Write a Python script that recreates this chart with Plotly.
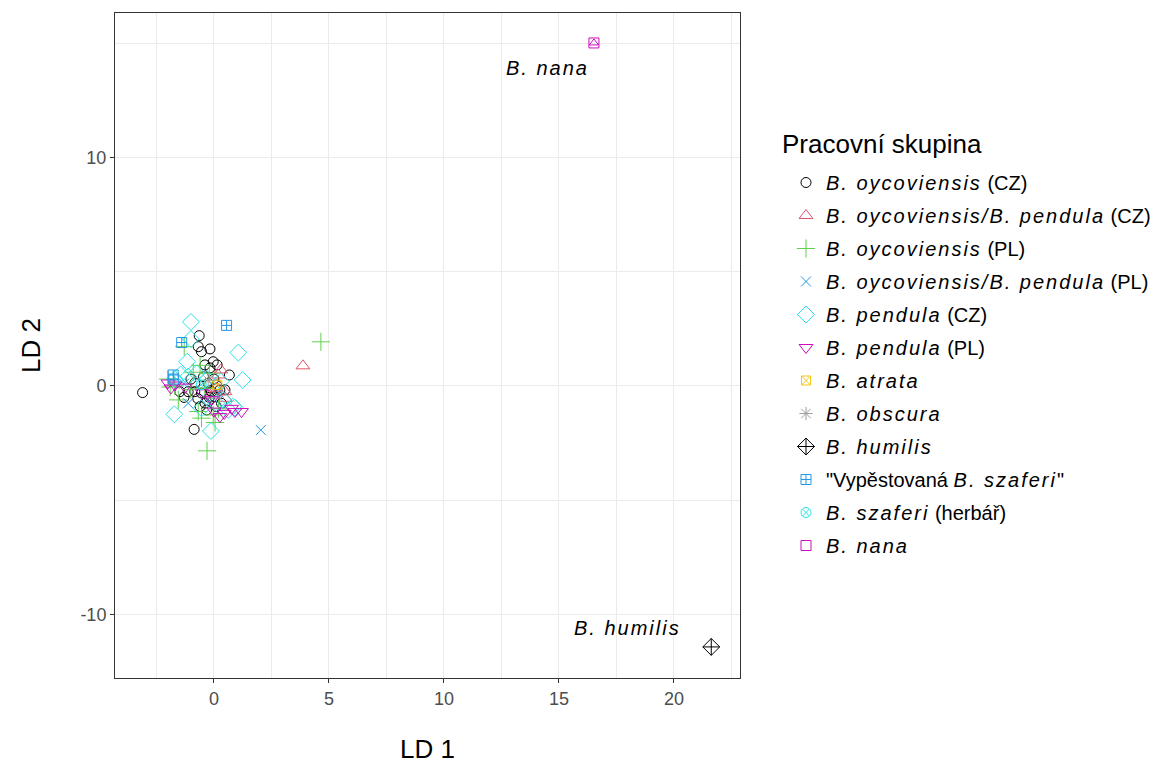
import plotly.graph_objects as go

# LDA scores (LD 1, LD 2) per working group
oyc_cz_x = [-3.1, -0.64, -0.68, -0.54, -0.17, -0.03, 0.14, 0.67, -0.39, -0.17, -1.48, -1.12, -0.83, -0.83,
            -0.54, -0.25, -0.39, 0.12, 0.26, -0.10, 0.04, 0.33, -0.32, -0.86, 0.48, -1.30, -0.60, -0.20,
            0.00, -0.45, -1.00, -0.70, 0.10, -0.15]
oyc_cz_y = [-0.29, 2.20, 1.72, 1.50, 1.62, 1.06, 0.92, 0.48, 0.92, 0.79, -0.25, -0.25, 0.13, -0.25,
            -0.31, 0.12, -0.75, 0.04, -0.18, -0.25, -0.47, -0.76, -1.05, -1.90, -0.17, -0.50, -0.90, -0.50,
            0.30, 0.40, 0.30, -0.55, -0.90, -0.20]

oyc_pen_cz_x = [3.87, 0.19, 0.48, 0.50, 0.30, -0.05, 0.10]
oyc_pen_cz_y = [0.88, 0.48, -0.25, -0.54, 0.70, -0.40, -0.10]

oyc_pl_x = [4.65, -1.29, -0.30, -1.55, -0.68, -0.03, -0.54, -1.70, -0.20, 0.05, -0.90, -0.40, -1.90,
            0.20, -0.60, -1.00, -2.00]
oyc_pl_y = [1.93, 1.72, -2.84, -0.61, -1.12, -1.27, -1.41, 0.00, 0.55, -1.60, 0.60, -0.10, -0.05,
            -1.00, 0.90, -0.15, 0.30]

oyc_pen_pl_x = [2.04, -1.12, -0.30, 0.20, -1.30]
oyc_pen_pl_y = [-1.93, -0.76, -0.60, -0.30, 0.10]

pen_cz_x = [-1.00, -1.00, 1.06, -1.16, 1.25, -1.72, -0.13, 0.91, -1.12, -0.54, 0.40, 0.84, 0.62,
            -1.45, -0.30, 0.10, -0.75, 0.30, -1.70]
pen_cz_y = [2.80, 2.05, 1.46, 1.06, 0.26, -1.24, -1.97, -0.95, 0.41, -0.98, -0.61, -0.90, -1.05,
            0.50, 0.30, -0.75, 0.55, 0.20, 0.30]

pen_pl_x = [-1.70, -2.00, 0.26, 0.77, 0.91, 1.20, -1.87, -0.50, -0.10, 0.00, -1.25, 0.45]
pen_pl_y = [0.04, 0.13, -1.34, -0.98, -1.12, -1.12, -0.09, -0.30, -0.60, -1.10, -0.05, -1.20]

atrata_x = [0.15]
atrata_y = [0.05]

obscura_x = [-0.25]
obscura_y = [0.25]

humilis_x = [21.62]
humilis_y = [-11.42]

vyp_szaferi_x = [-1.40, 0.55, -1.77, -1.75]
vyp_szaferi_y = [1.90, 2.65, 0.48, 0.30]

szaferi_herb_x = [-0.55]
szaferi_herb_y = [0.05]

nana_x = [16.52]
nana_y = [15.01]

x_ticks = [0, 5, 10, 15, 20]
y_ticks = [-10, 0, 10]
x_tick_text = ["0", "5", "10", "15", "20"]
y_tick_text = ["-10", "0", "10"]

SP = '<span style="letter-spacing:2px"><i>{}</i></span>'


def it(s):
    return SP.format(s)


groups = [
    (it("B. oycoviensis") + " (CZ)", oyc_cz_x, oyc_cz_y, "circle-open", "#000000", 10),
    (it("B. oycoviensis/B. pendula") + " (CZ)", oyc_pen_cz_x, oyc_pen_cz_y, "triangle-up-open", "#DF536B", 12),
    (it("B. oycoviensis") + " (PL)", oyc_pl_x, oyc_pl_y, "cross-thin-open", "#61D04F", 13),
    (it("B. oycoviensis/B. pendula") + " (PL)", oyc_pen_pl_x, oyc_pen_pl_y, "x-thin-open", "#2297E6", 10),
    (it("B. pendula") + " (CZ)", pen_cz_x, pen_cz_y, "diamond-open", "#28E2E5", 13),
    (it("B. pendula") + " (PL)", pen_pl_x, pen_pl_y, "triangle-down-open", "#CD0BBC", 12),
    (it("B. atrata"), atrata_x, atrata_y, "square-x-open", "#F5C710", 9),
    (it("B. obscura"), obscura_x, obscura_y, "asterisk-open", "#9E9E9E", 11),
    (it("B. humilis"), humilis_x, humilis_y, "diamond-cross-open", "#000000", 13),
    ("\"Vypěstovaná " + it("B. szaferi") + "\"", vyp_szaferi_x, vyp_szaferi_y, "square-cross-open", "#2297E6", 10),
    (it("B. szaferi") + " (herbář)", szaferi_herb_x, szaferi_herb_y, "circle-x-open", "#28E2E5", 10),
    (it("B. nana"), nana_x, nana_y, "square-open", "#CD0BBC", 10),
]

FONT = "Liberation Sans, Arial, sans-serif"

fig = go.Figure()
for i, (name, xs, ys, sym, col, size) in enumerate(groups):
    fig.add_trace(go.Scatter(
        x=xs, y=ys, mode="markers", name=name, legendgroup=f"g{i}",
        marker=dict(symbol=sym, color=col, size=size, line=dict(color=col, width=1)),
    ))

# triangle inside the B. nana square
fig.add_trace(go.Scatter(
    x=nana_x, y=nana_y, mode="markers", showlegend=False, legendgroup="g11",
    marker=dict(symbol="triangle-up-open", color="#CD0BBC", size=8, line=dict(color="#CD0BBC", width=1)),
))

label_font = dict(family=FONT, size=20, color="#000000")
fig.add_annotation(x=14.50, y=13.9, text=it("B. nana"), showarrow=False, font=label_font)
fig.add_annotation(x=18.00, y=-10.6, text=it("B. humilis"), showarrow=False, font=label_font)
fig.add_annotation(xref="paper", yref="paper", x=(780 - 115) / 625, y=(678 - 144) / 665,
                   xanchor="left", yanchor="middle", text="Pracovní skupina", showarrow=False,
                   font=dict(family=FONT, size=26, color="#000000"))

axis_common = dict(
    showgrid=True, gridcolor="#EBEBEB", gridwidth=1.2, zeroline=False,
    showline=True, linecolor="#333333", linewidth=1, mirror=True,
    ticks="outside", ticklen=4, tickcolor="#333333", tickwidth=1,
    tickfont=dict(family=FONT, size=18, color="#4D4D4D"),
    automargin=False, tickmode="array",
)

fig.update_layout(
    width=1154, height=765,
    paper_bgcolor="white", plot_bgcolor="white",
    margin=dict(l=115, r=414, t=13, b=87),
    font=dict(family=FONT),
    xaxis=dict(range=[-4.30, 22.87], tickvals=x_ticks, ticktext=x_tick_text,
               minor=dict(dtick=2.5, tick0=0, showgrid=True, gridcolor="#EBEBEB", gridwidth=0.6, ticks=""),
               title=dict(text="LD 1", font=dict(family=FONT, size=26, color="#000000"), standoff=32),
               **axis_common),
    yaxis=dict(range=[-12.78, 16.32], tickvals=y_ticks, ticktext=y_tick_text,
               minor=dict(dtick=5, tick0=0, showgrid=True, gridcolor="#EBEBEB", gridwidth=0.6, ticks=""),
               title=dict(text="LD 2", font=dict(family=FONT, size=26, color="#000000"), standoff=32),
               **axis_common),
    legend=dict(xref="container", yref="container", x=786 / 1154, y=1 - 163 / 765,
                xanchor="left", yanchor="top", maxheight=600,
                font=dict(family=FONT, size=20, color="#000000"),
                tracegroupgap=4, bgcolor="rgba(0,0,0,0)"),
)

fig.write_html("out.html")
